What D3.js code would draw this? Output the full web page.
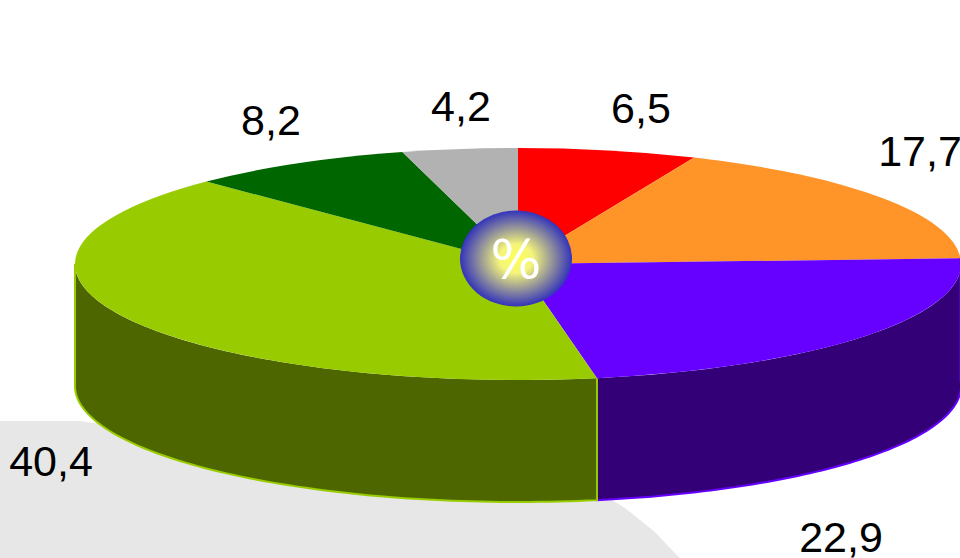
<!DOCTYPE html>
<html><head><meta charset="utf-8">
<script src="https://cdn.jsdelivr.net/npm/d3@7"></script>
<style>html,body{margin:0;padding:0;background:#fff}svg{display:block}</style>
</head><body><svg id="c" width="960" height="558"></svg>
<script>
const labels = ["6,5","17,7","22,9","40,4","8,2","4,2"];
const values = [6.5,17.7,22.9,40.4,8.2,4.2];
const topColors = ["#ff0000","#ff9429","#6600ff","#99cc00","#006600","#b2b2b2"];
const sideColors = ["#800000","#804a14","#330077","#4d6600","#003300","#595959"];
const edgeColors = ["#ff0000","#ff9429","#6600ff","#99cc00","#006600","#b2b2b2"];
const labelX = [641,920,841,51,271,461];
const labelY = [123,166,552,476,135,121];
const floorPts = [[0,421],[80,421],[600,500],[612,500],[625,508],[640,520],[655,532],[668,546],[680,558],[0,558]];

const W=960,H=558,cx=518,cy=264,rx=443,ry=116,depth=122;
const svg=d3.select("#c");
const defs=svg.append("defs");
const g=defs.append("radialGradient").attr("id","hub");
g.append("stop").attr("offset","0%").attr("stop-color","#ffff55");
g.append("stop").attr("offset","30%").attr("stop-color","#f4f47a");
g.append("stop").attr("offset","100%").attr("stop-color","#3333bb");

svg.append("polygon").attr("points",floorPts.map(p=>p.join(",")).join(" ")).attr("fill","#e7e7e7");

const arcs=d3.pie().sort(null)(values);
const px=a=>cx+rx*Math.sin(a), py=(a,d=0)=>cy-ry*Math.cos(a)+d;
const PI=Math.PI;
// Side walls: only the front half of the rim (90deg..270deg) is visible
arcs.forEach((s,i)=>{
  const a0=Math.max(s.startAngle,PI/2-0.06), a1=Math.min(s.endAngle,1.5*PI);
  if(a1<=a0) return;
  const p=d3.path();
  const N=80;
  const rim=d3.range(N+1).map(k=>a0+(a1-a0)*k/N);
  p.moveTo(px(a0),py(a0));
  rim.forEach(a=>p.lineTo(px(a),py(a)));
  rim.slice().reverse().forEach(a=>p.lineTo(px(a),py(a,depth)));
  p.closePath();
  svg.append("path").attr("d",p.toString()).attr("fill",sideColors[i]);
  const e=d3.path();
  e.moveTo(px(a0),py(a0));
  e.lineTo(px(a0),py(a0,depth));
  rim.forEach(a=>e.lineTo(px(a),py(a,depth)));
  e.lineTo(px(a1),py(a1));
  svg.append("path").attr("d",e.toString()).attr("fill","none").attr("stroke",edgeColors[i]).attr("stroke-width",2);
});

// Top face: a regular pie squashed into an ellipse
const arc=d3.arc().innerRadius(0).outerRadius(rx);
svg.append("g").attr("transform",`translate(${cx},${cy}) scale(1,${ry/rx})`)
  .selectAll("path").data(arcs).join("path")
  .attr("d",arc).attr("fill",(d,i)=>topColors[i]);

svg.append("ellipse").attr("cx",516).attr("cy",258.5).attr("rx",56).attr("ry",48).attr("fill","url(#hub)");
svg.append("text").attr("x",516).attr("y",278).attr("text-anchor","middle")
  .attr("font-family","'DejaVu Sans',sans-serif").attr("font-size",54)
  .attr("fill","#fff").text("%");

svg.append("g").selectAll("text").data(labels).join("text")
  .attr("x",(d,i)=>labelX[i]).attr("y",(d,i)=>labelY[i]).attr("text-anchor","middle")
  .attr("font-family","'Liberation Sans',Arial,sans-serif").attr("font-size",43).attr("fill","#000")
  .text(d=>d);
</script></body></html>
